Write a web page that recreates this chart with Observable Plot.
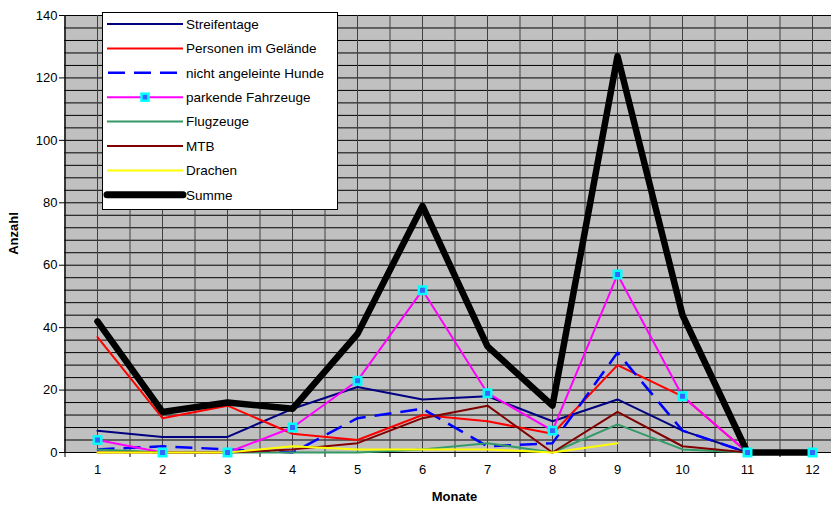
<!DOCTYPE html>
<html><head><meta charset="utf-8">
<script src="https://cdn.jsdelivr.net/npm/d3@7"></script>
<script src="https://cdn.jsdelivr.net/npm/@observablehq/plot@0.6"></script>
<style>
html,body{margin:0;padding:0;background:#fff;overflow:hidden;}
#chart svg{display:block;overflow:hidden;}
</style></head><body><div id="chart"></div>
<script>
const months = [1,2,3,4,5,6,7,8,9,10,11,12];
const streifentage = [7,5,5,14,21,17,18,10,17,7,0,null];
const personen     = [37,11,15,6,4,12,10,6,28,18,0,null];
const hunde        = [1,2,1,0,11,14,2,3,32,7,0,null];
const fahrzeuge    = [4,0,0,8,23,52,19,7,57,18,0,0];
const flugzeuge    = [1,0,0,0,0,1,3,0,9,1,0,null];
const mtb          = [0,0,0,1,3,11,15,0,13,2,0,null];
const drachen      = [0,0,0,2,1,1,1,0,3,null,null,null];
const summe        = [42,13,16,14,38,79,34,15,127,44,0,0];
const yTicks = [0,20,40,60,80,100,120,140];
const yGrid = d3.range(0, 141, 4);
const xBounds = months.map(m => m - 0.5).concat([12.5]);
const xGrid = months.concat(xBounds);

const seriesDefs = [
  {name:"Streifentage", values:streifentage, stroke:"#000080", width:2},
  {name:"Personen im Gelände", values:personen, stroke:"#ff0000", width:2},
  {name:"nicht angeleinte Hunde", values:hunde, stroke:"#0000ff", width:2.5, dash:"17,9"},
  {name:"parkende Fahrzeuge", values:fahrzeuge, stroke:"#ff00ff", width:2, marker:true},
  {name:"Flugzeuge", values:flugzeuge, stroke:"#339966", width:2},
  {name:"MTB", values:mtb, stroke:"#800000", width:2},
  {name:"Drachen", values:drachen, stroke:"#ffff00", width:2},
  {name:"Summe", values:summe, stroke:"#000000", width:6.5}
];
const rows = s => months.map((m,i) => ({month:m, value:s.values[i]})).filter(d => d.value != null);

const lineMarks = seriesDefs.map(s => Plot.line(rows(s), {
  x:"month", y:"value", stroke:s.stroke, strokeWidth:s.width,
  strokeDasharray:s.dash, strokeLinejoin:"round", strokeLinecap: s.dash ? "butt" : "round"
}));
const fz = seriesDefs[3];

const chart = Plot.plot({
  width: 831, height: 506,
  marginLeft: 64, marginRight: 0, marginTop: 15, marginBottom: 54,
  style: {fontFamily: "'Liberation Sans', Arial, sans-serif", fontSize: "13px", color: "#000", background: "#fff"},
  x: {domain: [0.5, 12.5], range: [64.5, 844.5]},
  y: {domain: [0, 140], range: [452, 15]},
  marks: [
    Plot.frame({fill: "#c0c0c0", stroke: "none"}),
    Plot.ruleY(yGrid, {stroke: "#000", strokeWidth: 1}),
    Plot.ruleX(xGrid, {stroke: "#404040", strokeWidth: 1}),
    Plot.ruleY([0], {stroke: "#000", strokeWidth: 1.2}),
    Plot.ruleX([0.5], {stroke: "#000", strokeWidth: 1.2}),
    Plot.axisY({ticks: yTicks, tickSize: 5, tickPadding: 2, label: null, fill:"#000", fontSize: 13}),
    Plot.axisX({ticks: xBounds, tickSize: 5, tickFormat: () => "", label: null}),
    Plot.axisX({ticks: months, tickSize: 0, tickPadding: 12, label: null, fill:"#000", fontSize: 13}),
    ...lineMarks,
    Plot.dot(rows(fz), {x:"month", y:"value", symbol:"square", r:4.2, fill:"#3366ff", stroke:"#00ffff", strokeWidth:2.5})
  ]
});
document.getElementById("chart").appendChild(chart);

const svg = d3.select(chart);
const font = "'Liberation Sans', Arial, sans-serif";
svg.append("text").attr("transform", "translate(18,233.5) rotate(-90)")
  .attr("text-anchor","middle").attr("font-family",font).attr("font-size",13)
  .attr("font-weight","bold").attr("fill","#000").text("Anzahl");
svg.append("text").attr("x",454.5).attr("y",501)
  .attr("text-anchor","middle").attr("font-family",font).attr("font-size",13)
  .attr("font-weight","bold").attr("fill","#000").text("Monate");

// legend
const lg = svg.append("g").attr("text-anchor","start");
lg.append("rect").attr("x",102.5).attr("y",12.5).attr("width",235).attr("height",197)
  .attr("fill","#fff").attr("stroke","#000").attr("stroke-width",1);
seriesDefs.forEach((s,i) => {
  const yy = 24 + i*24.4;
  lg.append("line").attr("x1",s.dash?108:107).attr("x2",183).attr("y1",yy).attr("y2",yy)
    .attr("stroke",s.stroke).attr("stroke-width", s.width===6.5 ? 7 : s.width)
    .attr("stroke-dasharray", s.dash || null)
    .attr("stroke-linecap", s.width===6.5 ? "round" : "butt");
  if (s.marker) {
    lg.append("rect").attr("x",141.5).attr("y",yy-3.5).attr("width",7).attr("height",7)
      .attr("fill","#3366ff").attr("stroke","#00ffff").attr("stroke-width",2.5);
  }
  lg.append("text").attr("x",186).attr("y",yy).attr("dy","0.35em").attr("text-anchor","start")
    .attr("font-family",font).attr("font-size",13.5).attr("fill","#000").text(s.name);
});
</script></body></html>
